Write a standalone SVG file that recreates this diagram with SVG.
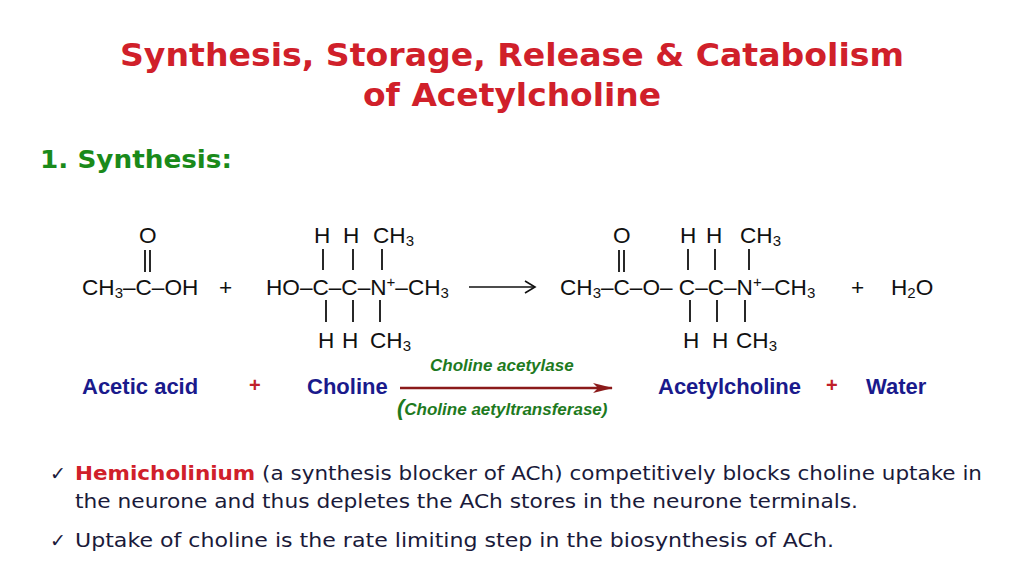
<svg xmlns="http://www.w3.org/2000/svg" width="1024" height="576" viewBox="0 0 1024 576">
<style>
.t{font-family:"DejaVu Sans","Liberation Sans",sans-serif;font-weight:bold;fill:#d0202a;font-size:32px}
.c{font-family:"Liberation Sans",Arial,sans-serif;font-size:22.6px;fill:#111}
.s{font-size:15px}
.b{stroke:#111;stroke-width:1.8}
.n{font-family:"Liberation Sans",Arial,sans-serif;font-weight:bold;font-size:22px;fill:#1a1a8c}
.r{font-family:"Liberation Sans",Arial,sans-serif;font-weight:bold;font-size:20px;fill:#c0202a}
.g{font-family:"Liberation Sans",Arial,sans-serif;font-weight:bold;font-style:italic;font-size:17px;fill:#1e7a1e}
.p{font-family:"DejaVu Sans","Liberation Sans",sans-serif;font-size:19px;fill:#1a1a3a}
</style>
<defs><marker id="ah" markerWidth="20" markerHeight="10" refX="19" refY="5" orient="auto" markerUnits="userSpaceOnUse"><path d="M0,0 L20,5 L0,10 L5,5 Z" fill="#8b1a1a"/></marker></defs>
<g id="title">
<text class="t" x="512" y="66" text-anchor="middle" textLength="784" lengthAdjust="spacingAndGlyphs">Synthesis, Storage, Release &amp; Catabolism</text>
<text class="t" x="512" y="106" text-anchor="middle" textLength="298" lengthAdjust="spacingAndGlyphs">of Acetylcholine</text>
<text x="40" y="168" font-family="DejaVu Sans,sans-serif" font-weight="bold" font-size="25" fill="#1a8a1a" textLength="192" lengthAdjust="spacingAndGlyphs">1. Synthesis:</text>
</g>
<g id="acetic">
<text class="c" x="139" y="243">O</text>
<line class="b" x1="145" y1="250" x2="145" y2="272"/><line class="b" x1="150" y1="250" x2="150" y2="272"/>
<text class="c" x="82" y="295">CH<tspan class="s" dy="3">3</tspan><tspan dy="-3">–C–OH</tspan></text>
<text class="c" x="219" y="295">+</text>
</g>
<g id="choline">
<text class="c" x="314" y="243">H</text><text class="c" x="343" y="243">H</text><text class="c" x="373" y="243">CH<tspan class="s" dy="3">3</tspan></text>
<line class="b" x1="323" y1="249" x2="323" y2="270"/><line class="b" x1="353" y1="249" x2="353" y2="270"/><line class="b" x1="382" y1="249" x2="382" y2="270"/>
<text class="c" x="266" y="295">HO–C–C–N<tspan class="s" dy="-8">+</tspan><tspan dy="8">–CH</tspan><tspan class="s" dy="3">3</tspan></text>
<line class="b" x1="326" y1="300" x2="326" y2="322"/><line class="b" x1="353" y1="300" x2="353" y2="322"/><line class="b" x1="380" y1="300" x2="380" y2="322"/>
<text class="c" x="318" y="348">H</text><text class="c" x="342" y="348">H</text><text class="c" x="370" y="348">CH<tspan class="s" dy="3">3</tspan></text>
</g>
<g id="connectors">
<line x1="469" y1="287" x2="535" y2="287" stroke="#111" stroke-width="1.6"/>
<path d="M525,281 L535,287 L525,293" fill="none" stroke="#111" stroke-width="1.6"/>
<line x1="400" y1="388" x2="612" y2="388" stroke="#8b1a1a" stroke-width="2.5" marker-end="url(#ah)"/>
</g>
<g id="acetylcholine">
<text class="c" x="613" y="243">O</text>
<line class="b" x1="619" y1="250" x2="619" y2="272"/><line class="b" x1="624" y1="250" x2="624" y2="272"/>
<text class="c" x="680" y="243">H</text><text class="c" x="706" y="243">H</text><text class="c" x="740" y="243">CH<tspan class="s" dy="3">3</tspan></text>
<line class="b" x1="688" y1="249" x2="688" y2="270"/><line class="b" x1="715" y1="249" x2="715" y2="270"/><line class="b" x1="749" y1="249" x2="749" y2="270"/>
<text class="c" x="560" y="295">CH<tspan class="s" dy="3">3</tspan><tspan dy="-3">–C–O– C–C–N</tspan><tspan class="s" dy="-8">+</tspan><tspan dy="8">–CH</tspan><tspan class="s" dy="3">3</tspan></text>
<line class="b" x1="690" y1="300" x2="690" y2="322"/><line class="b" x1="717" y1="300" x2="717" y2="322"/><line class="b" x1="745" y1="300" x2="745" y2="322"/>
<text class="c" x="683" y="348">H</text><text class="c" x="712" y="348">H</text><text class="c" x="736" y="348">CH<tspan class="s" dy="3">3</tspan></text>
<text class="c" x="851" y="295">+</text>
<text class="c" x="891" y="295">H<tspan class="s" dy="3">2</tspan><tspan dy="-3">O</tspan></text>
</g>
<g id="labels">
<text class="n" x="82" y="394">Acetic acid</text>
<text class="r" x="249" y="392">+</text>
<text class="n" x="307" y="394">Choline</text>
<text class="g" x="430" y="371">Choline acetylase</text>
<text class="g" x="397" y="415"><tspan font-size="22">(</tspan>Choline aetyltransferase)</text>
<text class="n" x="658" y="394">Acetylcholine</text>
<text class="r" x="826" y="392">+</text>
<text class="n" x="866" y="394">Water</text>
</g>
<g id="notes">
<text class="p" x="50" y="480" font-size="22">✓</text>
<text class="p" x="75" y="480" textLength="907" lengthAdjust="spacingAndGlyphs"><tspan fill="#d0202a" font-weight="bold">Hemicholinium</tspan> (a synthesis blocker of ACh) competitively blocks choline uptake in</text>
<text class="p" x="75" y="508" textLength="783" lengthAdjust="spacingAndGlyphs">the neurone and thus depletes the ACh stores in the neurone terminals.</text>
<text class="p" x="50" y="547" font-size="22">✓</text>
<text class="p" x="75" y="547" textLength="759" lengthAdjust="spacingAndGlyphs">Uptake of choline is the rate limiting step in the biosynthesis of ACh.</text>
</g>
</svg>
